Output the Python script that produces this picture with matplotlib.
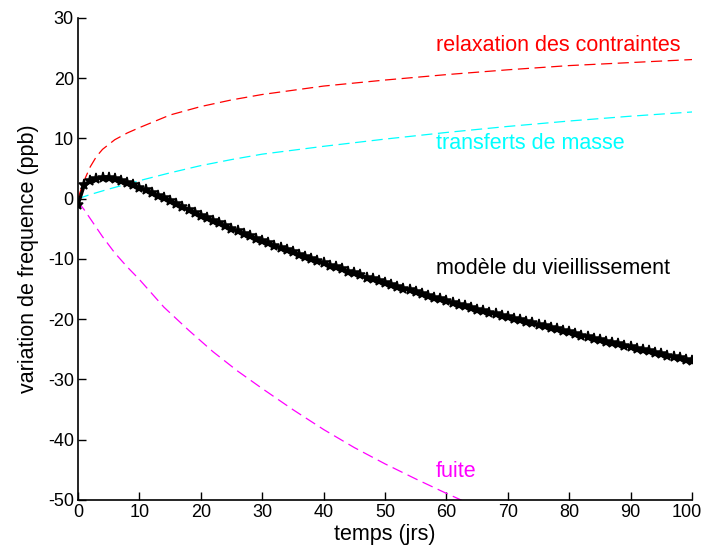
import numpy as np
from matplotlib import pyplot as plt
from matplotlib import transforms

# days for the aging model (one marker per day)
days = list(range(0, 101))
aging = [-1.0, 2.2, 3.0, 3.3, 3.5, 3.5, 3.3, 3.0, 2.6, 2.2,
         1.8, 1.4, 1.0, 0.5, 0.1, -0.3, -0.8, -1.3, -1.8, -2.3,
         -2.8, -3.2, -3.7, -4.1, -4.6, -5.0, -5.4, -5.8, -6.2, -6.6,
         -7.0, -7.4, -7.8, -8.2, -8.5, -8.9, -9.3, -9.6, -10.0, -10.4,
         -10.7, -11.1, -11.4, -11.7, -12.1, -12.4, -12.7, -13.1, -13.4, -13.7,
         -14.0, -14.3, -14.6, -14.9, -15.2, -15.5, -15.8, -16.1, -16.4, -16.7,
         -17.0, -17.3, -17.6, -17.8, -18.1, -18.4, -18.7, -18.9, -19.2, -19.4,
         -19.7, -20.0, -20.2, -20.5, -20.7, -21.0, -21.2, -21.5, -21.7, -22.0,
         -22.2, -22.5, -22.7, -22.9, -23.2, -23.4, -23.7, -23.9, -24.1, -24.4,
         -24.6, -24.9, -25.1, -25.3, -25.6, -25.8, -26.1, -26.3, -26.5, -26.8,
         -27.0]

relax_t = [0, 0.5, 1, 2, 3, 4, 6, 8, 10, 15, 20, 25, 30, 40, 50, 60, 70, 80, 90, 100]
relax = [0.0, 1.6, 3.0, 5.3, 7.0, 8.2, 9.8, 10.9, 11.8, 13.9, 15.3, 16.4, 17.3,
         18.7, 19.7, 20.6, 21.4, 22.1, 22.6, 23.1]

mass_t = [0, 2, 5, 10, 15, 20, 25, 30, 40, 50, 60, 70, 80, 90, 100]
mass = [0.0, 0.7, 1.6, 3.0, 4.3, 5.5, 6.5, 7.4, 8.7, 9.9, 11.0, 12.0, 12.9, 13.7, 14.4]

leak_t = [0, 1, 2, 4, 6, 8, 10, 14, 18, 22, 26, 30, 35, 40, 45, 50, 55, 60, 65]
leak = [-0.5, -1.8, -3.3, -6.3, -9.0, -11.3, -13.4, -18.0, -21.8, -25.4, -28.6,
        -31.5, -35.0, -38.3, -41.3, -44.0, -46.5, -48.9, -51.2]

xticks = list(range(0, 101, 10))
yticks = list(range(-50, 31, 10))

plt.rcParams['lines.scale_dashes'] = False
plt.rcParams['axes.unicode_minus'] = False
TXT = 'Liberation Sans'

fig = plt.figure(figsize=(7.05, 5.55), dpi=100)
ax = fig.add_axes([0.1106, 0.0991, 0.871, 0.8685])

ax.plot(relax_t, relax, color='#ff0000', lw=0.9, dashes=(8, 4))
ax.plot(mass_t, mass, color='#00ffff', lw=0.9, dashes=(8, 4))
ax.plot(leak_t, leak, color='#ff00ff', lw=0.9, dashes=(8, 4))
ax.plot(days, aging, color='k', lw=2.4, marker='*', ms=8, mew=1.1)

ax.text(58.3, 25.4, 'relaxation des contraintes', color='#ff0000', fontsize=15.5,
        family=TXT, va='center')
ax.text(58.3, 9.1, 'transferts de masse', color='#00ffff', fontsize=15.5,
        family=TXT, va='center')
ax.text(58.3, -11.6, 'modèle du vieillissement', color='k', fontsize=15.5,
        family=TXT, va='center')
ax.text(58.3, -45.2, 'fuite', color='#ff00ff', fontsize=15.5,
        family=TXT, va='center')

ax.set_xlim(0, 100)
ax.set_ylim(-50, 30)
ax.set_xticks(xticks)
ax.set_yticks(yticks)
ax.tick_params(direction='in', length=5.5, width=1, labelsize=13, pad=3)
for lab in ax.get_xticklabels() + ax.get_yticklabels():
    lab.set_family(TXT)
# keep the last x label inside the figure
last = ax.get_xticklabels()[-1]
last.set_transform(last.get_transform() +
                   transforms.ScaledTranslation(-4 / 72, 0, fig.dpi_scale_trans))
ax.spines['top'].set_visible(False)
ax.spines['right'].set_visible(False)
ax.spines['left'].set_linewidth(1.2)
ax.spines['bottom'].set_linewidth(1.2)

ax.set_xlabel('temps (jrs)', fontsize=15.5, family=TXT, labelpad=2)
ax.set_ylabel('variation de frequence (ppb)', fontsize=15.5, family=TXT, labelpad=6)

plt.savefig('out.png', dpi=100)
